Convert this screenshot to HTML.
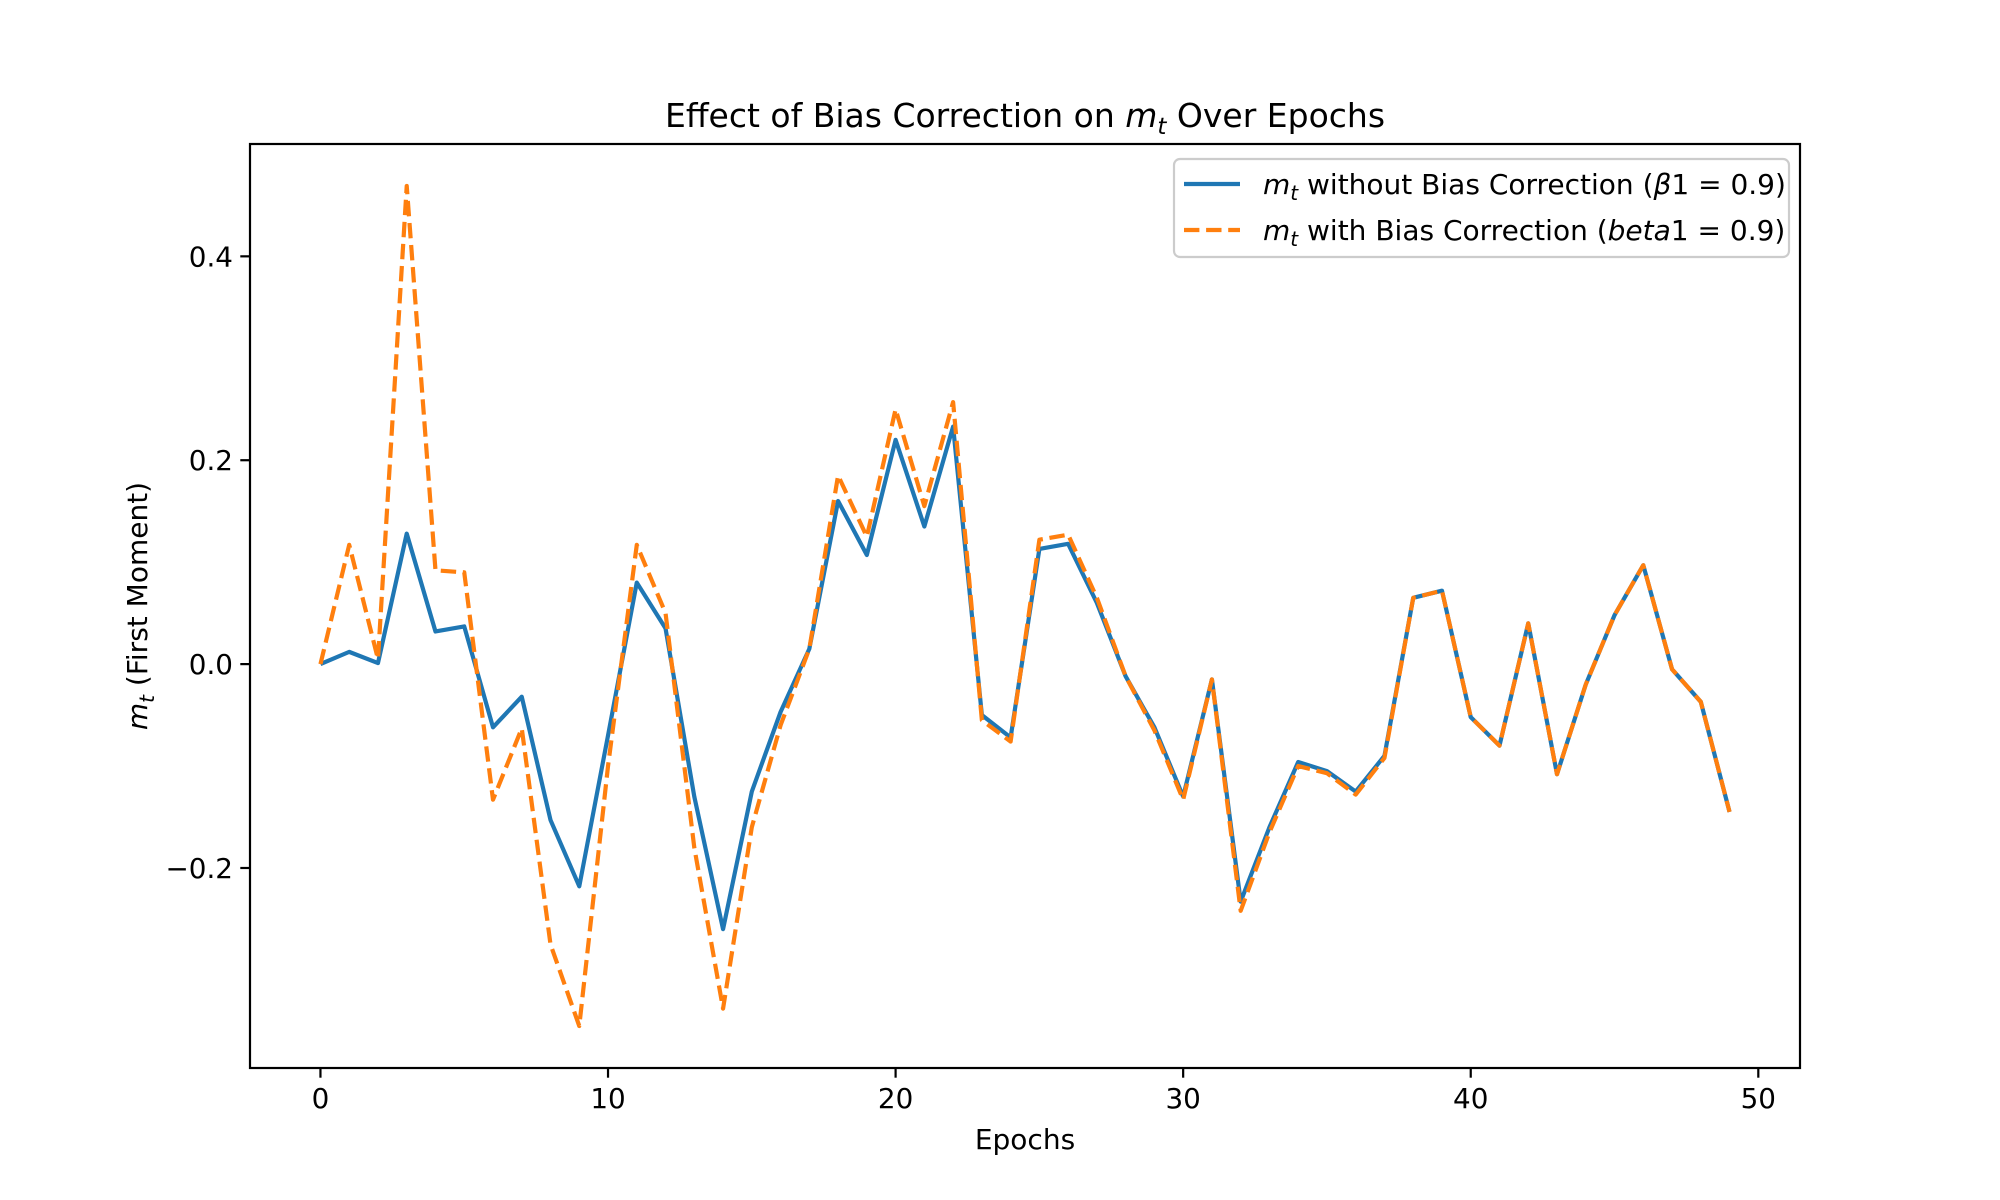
<!DOCTYPE html>
<html><head><meta charset="utf-8"><style>
html,body{margin:0;padding:0;background:#fff;}
svg{display:block;font-family:"DejaVu Sans","Liberation Sans",sans-serif;}
</style></head><body>
<svg id="chart" width="2000" height="1200" viewBox="0 0 2000 1200">
<rect width="2000" height="1200" fill="#fff"/>
<text x="1025" y="127" font-size="33" text-anchor="middle">Effect of Bias Correction on <tspan font-style="italic">m</tspan><tspan font-style="italic" font-size="23" dy="7">t</tspan><tspan dy="-7"> Over Epochs</tspan></text>
<g id="plot"></g>
<rect x="250" y="144" width="1550" height="924" fill="none" stroke="#000" stroke-width="2.2"/>
<g id="xticks"></g>
<g id="yticks"></g>
<text x="1025" y="1149" font-size="28" text-anchor="middle">Epochs</text>
<text transform="translate(147,606) rotate(-90)" font-size="28" text-anchor="middle"><tspan font-style="italic">m</tspan><tspan font-style="italic" font-size="20" dy="7">t</tspan><tspan dy="-7"> (First Moment)</tspan></text>
<g transform="translate(-6,-1)">
<rect x="1180" y="160" width="615" height="98" rx="6" fill="#fff" fill-opacity="0.8" stroke="#ccc" stroke-width="2.2"/>
<line x1="1190" y1="185" x2="1246" y2="185" stroke="#1f77b4" stroke-width="4.2"/>
<text x="1269" y="195" font-size="28"><tspan font-style="italic">m</tspan><tspan font-style="italic" font-size="20" dy="6">t</tspan><tspan dy="-6"> without Bias Correction (</tspan><tspan font-style="italic">β</tspan>1 = 0.9)</text>
<line x1="1190" y1="231" x2="1246" y2="231" stroke="#ff7f0e" stroke-width="4.2" stroke-dasharray="15.4 6.7"/>
<text x="1269" y="241" font-size="28"><tspan font-style="italic">m</tspan><tspan font-style="italic" font-size="20" dy="6">t</tspan><tspan dy="-6"> with Bias Correction (</tspan><tspan font-style="italic">beta</tspan>1 = 0.9)</text>
</g>
</svg>
<script>
const epochs = Array.from({length:50},(_,i)=>i);
const withoutBC = [0,0.012,0.001,0.128,0.032,0.037,-0.062,-0.032,-0.153,-0.218,-0.07,0.08,0.035,-0.13,-0.26,-0.125,-0.047,0.015,0.16,0.107,0.22,0.135,0.233,-0.05,-0.072,0.113,0.118,0.06,-0.012,-0.062,-0.13,-0.015,-0.233,-0.16,-0.096,-0.105,-0.125,-0.09,0.065,0.072,-0.052,-0.08,0.04,-0.108,-0.02,0.048,0.097,-0.005,-0.037,-0.145];
const withBC = [0,0.117,0.005,0.469,0.092,0.09,-0.133,-0.063,-0.275,-0.355,-0.1,0.117,0.05,-0.18,-0.338,-0.16,-0.06,0.015,0.185,0.125,0.25,0.155,0.257,-0.055,-0.076,0.122,0.127,0.065,-0.012,-0.065,-0.133,-0.015,-0.242,-0.165,-0.1,-0.107,-0.128,-0.092,0.065,0.072,-0.052,-0.08,0.04,-0.108,-0.02,0.048,0.097,-0.005,-0.037,-0.145];
const xTicks = [0,10,20,30,40,50];
const yTicks = [-0.2,0.0,0.2,0.4];
const yTickLabels = ["\u22120.2","0.0","0.2","0.4"];

const NS="http://www.w3.org/2000/svg";
const L=250,R=1800,T=144,B=1068;
const xmin=-2.45,xmax=51.45;
const all=withoutBC.concat(withBC);
const dmin=Math.min(...all),dmax=Math.max(...all),rg=dmax-dmin;
const ymin=dmin-0.05*rg,ymax=dmax+0.05*rg;
const sx=v=>L+(v-xmin)/(xmax-xmin)*(R-L);
const sy=v=>B-(v-ymin)/(ymax-ymin)*(B-T);
function mk(tag,attrs){const e=document.createElementNS(NS,tag);for(const k in attrs)e.setAttribute(k,attrs[k]);return e;}
const plot=document.getElementById('plot');
function line(data,color,dash,name){
  const p=mk('polyline',{points:data.map((v,i)=>sx(epochs[i])+','+sy(v)).join(' '),fill:'none',stroke:color,'stroke-width':4.2,'stroke-linejoin':'round'});
  if(dash)p.setAttribute('stroke-dasharray',dash);
  
  
  plot.appendChild(p);
}
line(withoutBC,'#1f77b4',null,'line-without-bias-correction');
line(withBC,'#ff7f0e','15.4 6.7','line-with-bias-correction');
const xg=document.getElementById('xticks');
xTicks.forEach(t=>{
  const x=sx(t);
  const tk=mk('line',{x1:x,x2:x,y1:B,y2:B+9.7,stroke:'#000','stroke-width':2.2});
  
  
  xg.appendChild(tk);
  const tx=mk('text',{x:x,y:B+40,'font-size':27.8,'text-anchor':'middle'});
  tx.textContent=String(t);
  
  
  xg.appendChild(tx);
});
const yg=document.getElementById('yticks');
yTicks.forEach((t,i)=>{
  const y=sy(t);
  const tk=mk('line',{x1:L-9.7,x2:L,y1:y,y2:y,stroke:'#000','stroke-width':2.2});
  
  
  yg.appendChild(tk);
  const tx=mk('text',{x:L-17,y:y+10,'font-size':27.8,'text-anchor':'end'});
  tx.textContent=yTickLabels[i];
  
  
  yg.appendChild(tx);
});
</script>
</body></html>
